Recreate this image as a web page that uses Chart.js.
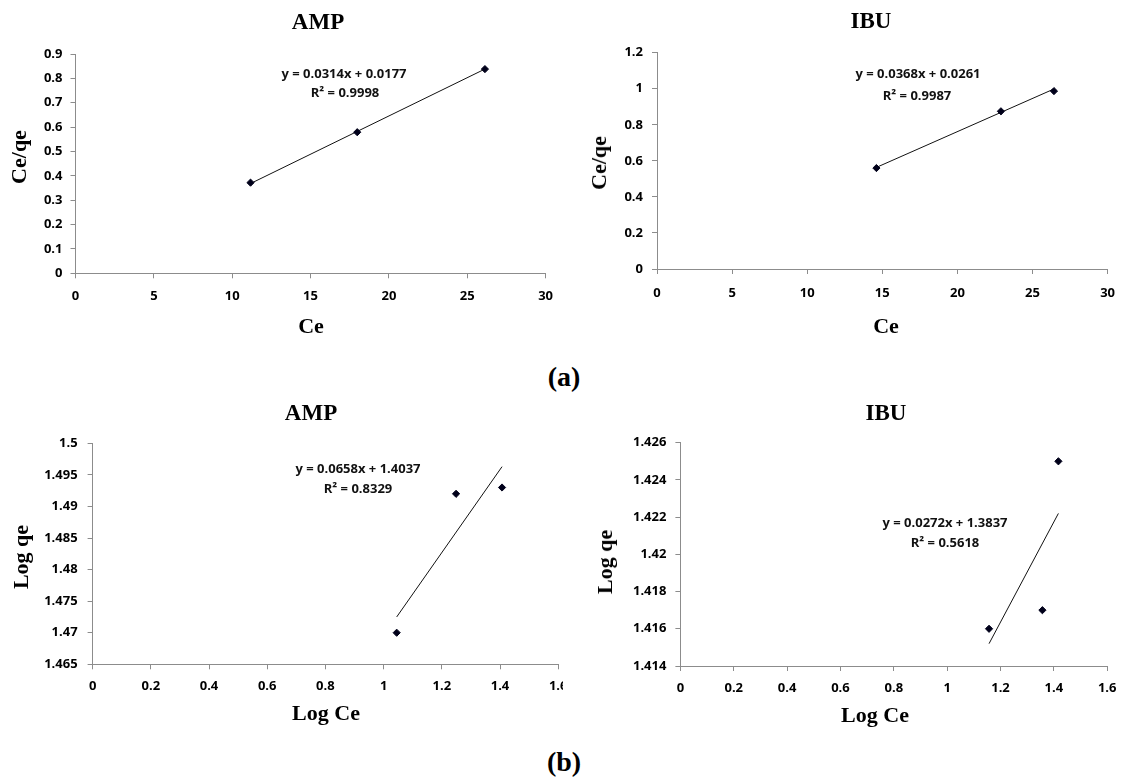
<!DOCTYPE html>
<html><head><meta charset="utf-8">
<script src="https://cdn.jsdelivr.net/npm/chart.js@4"></script>
<style>
html,body{margin:0;padding:0;background:#fff;}
#page{position:relative;width:1126px;height:778px;overflow:hidden;background:#fff;}
canvas{position:absolute;}
.t{position:absolute;transform:translate(-50%,-50%);white-space:nowrap;font-family:'Liberation Serif','Times New Roman',serif;font-weight:bold;color:#000;line-height:1;}
.rot{transform:translate(-50%,-50%) rotate(-90deg);}
.eq{position:absolute;transform:translate(-50%,-50%);white-space:nowrap;font-family:'Open Sans',sans-serif;font-weight:bold;font-size:13px;color:#111;line-height:1;}
</style></head>
<body>
<div id="page">
<canvas id="c1" width="563" height="345" style="left:0;top:0;"></canvas>
<canvas id="c2" width="563" height="345" style="left:563px;top:0;"></canvas>
<canvas id="c3" width="620" height="345" style="left:0;top:395px;"></canvas>
<canvas id="c4" width="563" height="345" style="left:563px;top:395px;background:#fff;z-index:2;"></canvas>

<div class="t" style="left:318px;top:21px;font-size:23px;">AMP</div>
<div class="t" style="left:871px;top:20px;font-size:23px;">IBU</div>
<div class="t" style="left:311px;top:412px;font-size:23px;z-index:3;">AMP</div>
<div class="t" style="left:886px;top:412px;font-size:23px;z-index:3;">IBU</div>

<div class="t rot" style="left:19px;top:157px;font-size:22px;">Ce/qe</div>
<div class="t" style="left:311px;top:326px;font-size:22px;">Ce</div>
<div class="t rot" style="left:599px;top:163px;font-size:22px;">Ce/qe</div>
<div class="t" style="left:886px;top:326px;font-size:22px;">Ce</div>
<div class="t rot" style="left:21px;top:557px;font-size:22px;">Log qe</div>
<div class="t" style="left:326px;top:713px;font-size:22px;">Log Ce</div>
<div class="t rot" style="left:605px;top:562px;font-size:22px;z-index:3;">Log qe</div>
<div class="t" style="left:875px;top:715px;font-size:22px;z-index:3;">Log Ce</div>

<div class="eq" style="left:344px;top:73px;">y = 0.0314x + 0.0177</div>
<div class="eq" style="left:345px;top:92px;">R² = 0.9998</div>
<div class="eq" style="left:918px;top:73px;">y = 0.0368x + 0.0261</div>
<div class="eq" style="left:917px;top:95px;">R² = 0.9987</div>
<div class="eq" style="left:358px;top:468px;">y = 0.0658x + 1.4037</div>
<div class="eq" style="left:358px;top:488px;">R² = 0.8329</div>
<div class="eq" style="left:945px;top:522px;z-index:3;">y = 0.0272x + 1.3837</div>
<div class="eq" style="left:945px;top:542px;z-index:3;">R² = 0.5618</div>

<div class="t" style="left:564px;top:377px;font-size:28px;">(a)</div>
<div class="t" style="left:564px;top:762px;font-size:28px;">(b)</div>
</div>
<script>
// ---- data: Langmuir (a) ----
const ampLangCe = [11.17, 17.98, 26.13];
const ampLangCeQe = [0.372, 0.579, 0.838];
const ampLangTrendX = [11.17, 26.13];
const ampLangTrendY = [0.3684, 0.8382];

const ibuLangCe = [14.61, 22.90, 26.43];
const ibuLangCeQe = [0.560, 0.875, 0.987];
const ibuLangTrendX = [14.61, 26.43];
const ibuLangTrendY = [0.5637, 0.9987];

// ---- data: Freundlich (b) ----
const ampFreLogCe = [1.045, 1.249, 1.407];
const ampFreLogQe = [1.470, 1.492, 1.493];
const ampFreTrendX = [1.045, 1.407];
const ampFreTrendY = [1.4725, 1.4963];

const ibuFreLogCe = [1.157, 1.357, 1.417];
const ibuFreLogQe = [1.416, 1.417, 1.425];
const ibuFreTrendX = [1.157, 1.417];
const ibuFreTrendY = [1.4152, 1.4222];

// ---- tick labels ----
const langXTicks = ['0','5','10','15','20','25','30'];
const ampLangYTicks = ['0','0.1','0.2','0.3','0.4','0.5','0.6','0.7','0.8','0.9'];
const ibuLangYTicks = ['0','0.2','0.4','0.6','0.8','1','1.2'];
const freXTicks = ['0','0.2','0.4','0.6','0.8','1','1.2','1.4','1.6'];
const ampFreYTicks = ['1.465','1.47','1.475','1.48','1.485','1.49','1.495','1.5'];
const ibuFreYTicks = ['1.414','1.416','1.418','1.42','1.422','1.424','1.426'];

const AXIS = '#8c8c8c';
const TICKFONT = {family:"'Open Sans', sans-serif", weight:'bold', size:13};

function pairs(xs, ys){ return xs.map((x,i)=>({x:x, y:ys[i]})); }

function makeChart(id, px, py, tx, ty, xT, yT, lay){
  const xs = xT.map(parseFloat), ys = yT.map(parseFloat);
  return new Chart(document.getElementById(id), {
    type:'scatter',
    data:{datasets:[
      {data:pairs(px,py), pointStyle:'rectRot', pointRadius:3.6, backgroundColor:'#00001a', borderColor:'#00001a', borderWidth:1, showLine:false},
      {data:pairs(tx,ty), showLine:true, pointRadius:0, borderColor:'#111', borderWidth:1, fill:false}
    ]},
    options:{
      responsive:false, animation:false, devicePixelRatio:1,
      layout:{padding:{top:lay.top, left:0, right:lay.right, bottom:lay.bottom}},
      plugins:{legend:{display:false}, tooltip:{enabled:false}, title:{display:false}},
      scales:{
        x:{type:'linear', position:'bottom', min:xs[0], max:xs[xs.length-1],
           afterBuildTicks:s=>{s.ticks = xs.map(v=>({value:v}));},
           afterFit:s=>{s.height = 40;},
           ticks:{callback:(v,i)=>xT[i], padding:lay.xPad, color:'#000', font:TICKFONT, maxRotation:0, autoSkip:false},
           grid:{drawOnChartArea:false, tickLength:5, color:AXIS, tickColor:AXIS},
           border:{color:AXIS, width:1}},
        y:{type:'linear', position:'left', min:ys[0], max:ys[ys.length-1],
           afterBuildTicks:s=>{s.ticks = ys.map(v=>({value:v}));},
           afterFit:s=>{s.width = lay.yW;},
           ticks:{callback:(v,i)=>yT[i], padding:lay.yPad, color:'#000', font:TICKFONT, autoSkip:false},
           grid:{drawOnChartArea:false, tickLength:5, color:AXIS, tickColor:AXIS},
           border:{color:AXIS, width:1}}
      }
    }
  });
}

makeChart('c1', ampLangCe, ampLangCeQe, ampLangTrendX, ampLangTrendY, langXTicks, ampLangYTicks,
  {top:54, right:17, bottom:31.7, yW:75.5, xPad:10, yPad:8});
makeChart('c2', ibuLangCe, ibuLangCeQe, ibuLangTrendX, ibuLangTrendY, langXTicks, ibuLangYTicks,
  {top:52.7, right:17, bottom:36, yW:94, xPad:11, yPad:9});
makeChart('c3', ampFreLogCe, ampFreLogQe, ampFreTrendX, ampFreTrendY, freXTicks, ampFreYTicks,
  {top:48.3, right:61.8, bottom:35.7, yW:92.6, xPad:9, yPad:10});
makeChart('c4', ibuFreLogCe, ibuFreLogQe, ibuFreTrendX, ibuFreTrendY, freXTicks, ibuFreYTicks,
  {top:47.7, right:15.5, bottom:34, yW:117.4, xPad:9.5, yPad:9});
</script>
</body></html>
